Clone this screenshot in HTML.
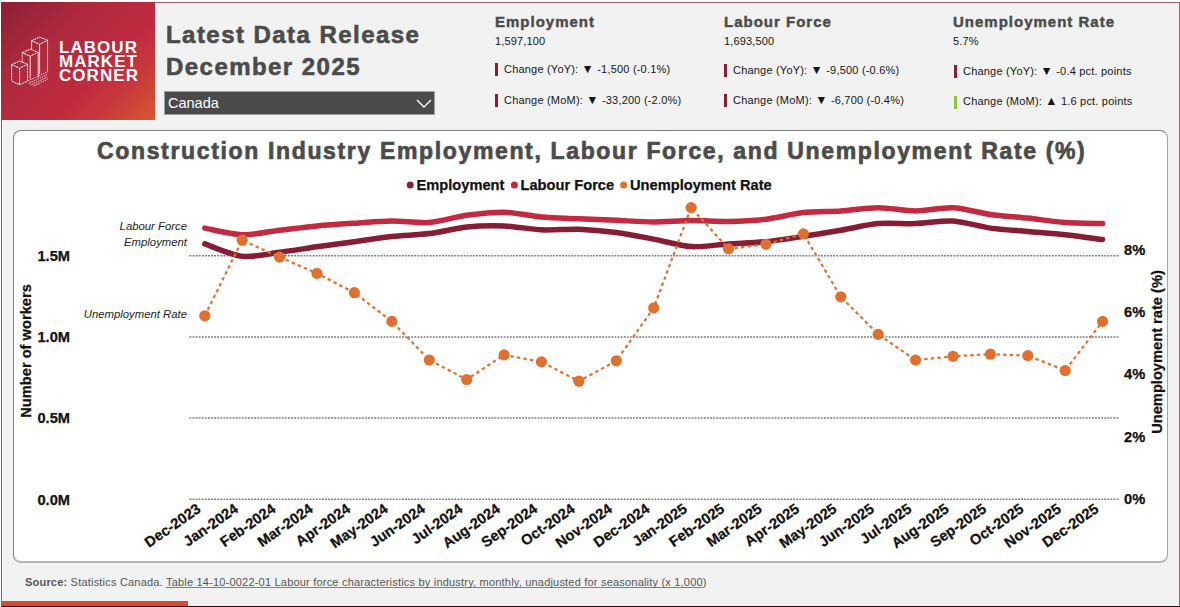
<!DOCTYPE html>
<html><head><meta charset="utf-8">
<style>
html,body{margin:0;padding:0;}
body{width:1180px;height:607px;position:relative;overflow:hidden;background:#fff;font-family:"Liberation Sans",sans-serif;}
#frame{position:absolute;left:1px;top:2px;width:1177px;height:603px;background:#f2f2f2;border:1px solid #9a5c68;border-bottom-color:#2e0a12;}
#logo{position:absolute;left:1px;top:2px;width:154px;height:118px;background:linear-gradient(135deg,#8c2036 0%,#b02a3e 35%,#c02a40 62%,#c7383b 78%,#d9592f 100%);overflow:hidden;}
.abs{position:absolute;white-space:nowrap;}
.h1{font-weight:bold;font-size:24px;color:#4b4b4b;letter-spacing:1.45px;-webkit-text-stroke:0.6px #4b4b4b;}
.sh{font-weight:bold;font-size:15px;color:#4b4b4b;letter-spacing:1.0px;-webkit-text-stroke:0.45px #4b4b4b;}
.sv{font-size:11px;color:#151515;letter-spacing:0.15px;}
.ch{font-size:11px;line-height:13px;color:#151515;letter-spacing:0.2px;}
.tri{font-size:12.3px;line-height:13px;}
.bar{position:absolute;width:3px;height:13px;background:#8a1d35;}
#dd{position:absolute;left:164px;top:91px;width:269px;height:22px;background:#4a4a4a;border:1px solid #a0a0a0;}
#panel{position:absolute;left:13px;top:130px;width:1153px;height:430px;background:#fff;border:1px solid #808080;border-right-color:#a4a4a4;border-bottom:2px solid #b4b4b4;border-radius:8px;}
svg text.ax{font-family:"Liberation Sans",sans-serif;font-weight:bold;font-size:14.67px;fill:#111;stroke:#111;stroke-width:0.25px;}
svg text.an{font-family:"Liberation Sans",sans-serif;font-style:italic;font-size:11.33px;fill:#222;}
svg text.lg{font-family:"Liberation Sans",sans-serif;font-weight:bold;font-size:14.67px;fill:#111;stroke:#111;stroke-width:0.25px;}
#ctitle{position:absolute;left:97px;top:137.2px;font-weight:bold;font-size:23px;line-height:28px;color:#4b4b4b;letter-spacing:1.65px;-webkit-text-stroke:0.7px #4b4b4b;white-space:nowrap;}
#src{position:absolute;left:25px;top:575.5px;font-size:11px;color:#555;white-space:nowrap;letter-spacing:0.2px;}
#src u{text-decoration-color:#808080;text-underline-offset:0.5px;text-decoration-skip-ink:none;}
#obar{position:absolute;left:1px;top:601px;width:187px;height:5px;background:#d64a2f;}
</style></head><body>
<div id="frame"></div>
<div id="logo">
<svg width="154" height="118" viewBox="1 2 154 118" style="position:absolute;left:0;top:0">
<g fill="none" stroke="#fff" stroke-width="1" stroke-linejoin="miter">
  <path stroke-dasharray="2.2 0.6" d="M11.6,64.7 L19.6,61.1 L27.6,64.2 L19.6,68.2 Z M11.6,64.7 L11.6,81.1 L19.6,84.7 L27.6,81.1 L27.6,64.2 M19.6,68.2 L19.6,84.7"/>
  <path stroke-dasharray="2.2 0.6" d="M22.2,52.7 L30.2,49.1 L38.2,52.2 L30.2,56.2 Z"/><path stroke-opacity="0.85" d="M30.2,56.2 L30.2,78.4 M38.2,52.2 L38.2,77.6"/>
  <path stroke-opacity="0.6" d="M22.2,52.7 L22.2,63"/>
  <path stroke-dasharray="2.2 0.6" d="M31.6,40.7 L39.6,37.1 L47.6,40.2 L39.6,44.2 Z"/><path stroke-opacity="0.85" d="M31.6,40.7 L31.6,49.5 M39.6,44.2 L39.6,74"/>
  <path stroke-opacity="0.6" d="M47.6,40.2 L47.6,71.5"/>
  <path stroke-dasharray="1.2 0.9" stroke-width="0.9" d="M27.6,81.1 L47.6,71.8 M28.6,83.4 L47.6,74.4 M30.2,85.2 L47.6,77 M33.5,86 L47.6,79.4"/>
</g>
<g font-family="Liberation Sans" font-weight="bold" font-size="17" fill="#fff" letter-spacing="1.05">
<text x="59" y="52.7" >LABOUR</text>
<text x="59" y="66.8" >MARKET</text>
<text x="59" y="81.1" >CORNER</text>
</g></svg>
</div>
<div class="abs h1" style="left:166px;top:21px;line-height:28px;">Latest Data Release</div>
<div class="abs h1" style="left:166px;top:53px;line-height:28px;">December 2025</div>
<div id="dd"><span class="abs" style="left:3px;top:3px;font-size:14.5px;color:#fff;">Canada</span>
<svg class="abs" style="left:250.5px;top:7.3px" width="17" height="10"><path d="M1,1 L8,8 L15,1" fill="none" stroke="#fff" stroke-width="1.4"/></svg></div>

<div class="abs sh" style="left:495px;top:13px;">Employment</div>
<div class="abs sv" style="left:495px;top:35px;">1,597,100</div>
<div class="bar" style="left:495px;top:63px;"></div>
<div class="abs ch" style="left:504px;top:63px;">Change (YoY): <span class=tri>▼</span> -1,500 (-0.1%)</div>
<div class="bar" style="left:495px;top:94px;"></div>
<div class="abs ch" style="left:504px;top:94px;">Change (MoM): <span class=tri>▼</span> -33,200 (-2.0%)</div>

<div class="abs sh" style="left:724px;top:13px;">Labour Force</div>
<div class="abs sv" style="left:724px;top:35px;">1,693,500</div>
<div class="bar" style="left:724px;top:64px;"></div>
<div class="abs ch" style="left:733px;top:64px;">Change (YoY): <span class=tri>▼</span> -9,500 (-0.6%)</div>
<div class="bar" style="left:724px;top:94px;"></div>
<div class="abs ch" style="left:733px;top:94px;">Change (MoM): <span class=tri>▼</span> -6,700 (-0.4%)</div>

<div class="abs sh" style="left:953px;top:13px;">Unemployment Rate</div>
<div class="abs sv" style="left:953px;top:35px;">5.7%</div>
<div class="bar" style="left:954px;top:65px;"></div>
<div class="abs ch" style="left:963px;top:65px;">Change (YoY): <span class=tri>▼</span> -0.4 pct. points</div>
<div class="bar" style="left:954px;top:96px;background:#8cc63f;"></div>
<div class="abs ch" style="left:963px;top:95px;">Change (MoM): <span class=tri>▲</span> 1.6 pct. points</div>

<div id="panel"></div>
<div id="ctitle">Construction Industry Employment, Labour Force, and Unemployment Rate (%)</div>
<svg style="position:absolute;left:0;top:0" width="1180" height="607">
<line x1="1118.4" y1="255.7" x2="189.3" y2="255.7" stroke="#777" stroke-width="1.5" stroke-dasharray="1.8 1.28"/>
<line x1="1118.4" y1="336.9" x2="189.3" y2="336.9" stroke="#777" stroke-width="1.5" stroke-dasharray="1.8 1.28"/>
<line x1="1118.4" y1="418.1" x2="189.3" y2="418.1" stroke="#777" stroke-width="1.5" stroke-dasharray="1.8 1.28"/>
<line x1="1118.4" y1="499.3" x2="189.3" y2="499.3" stroke="#777" stroke-width="1.5" stroke-dasharray="1.8 1.28"/>
<text x="70" y="260.9" text-anchor="end" class="ax">1.5M</text>
<text x="70" y="342.1" text-anchor="end" class="ax">1.0M</text>
<text x="70" y="423.3" text-anchor="end" class="ax">0.5M</text>
<text x="70" y="504.5" text-anchor="end" class="ax">0.0M</text>
<text x="1124" y="254.9" class="ax">8%</text>
<text x="1124" y="317.1" class="ax">6%</text>
<text x="1124" y="379.3" class="ax">4%</text>
<text x="1124" y="441.5" class="ax">2%</text>
<text x="1124" y="503.8" class="ax">0%</text>
<text transform="translate(30.6,351) rotate(-90)" text-anchor="middle" class="ax">Number of workers</text>
<text transform="translate(1162,352) rotate(-90)" text-anchor="middle" class="ax">Unemployment rate (%)</text>
<path d="M204.8,228.1 C210.4,229.1 231.0,234.4 242.2,234.7 C253.4,235.0 268.4,231.6 279.6,230.3 C290.8,229.0 305.8,227.0 317.0,225.9 C328.3,224.8 343.2,223.9 354.4,223.2 C365.7,222.5 380.6,221.1 391.9,221.0 C403.1,220.9 418.0,223.4 429.3,222.5 C440.5,221.6 455.4,216.8 466.7,215.3 C477.9,213.8 492.9,211.9 504.1,212.2 C515.3,212.5 530.3,216.0 541.5,217.0 C552.7,218.0 567.7,218.3 578.9,218.8 C590.1,219.3 605.1,219.8 616.3,220.3 C627.5,220.8 642.5,221.9 653.7,221.9 C664.9,221.9 679.9,220.7 691.1,220.6 C702.4,220.5 717.3,221.6 728.5,221.4 C739.8,221.2 754.7,220.5 766.0,219.2 C777.2,217.9 792.1,213.8 803.4,212.6 C814.6,211.4 829.5,211.6 840.8,210.9 C852.0,210.2 867.0,207.8 878.2,207.8 C889.4,207.8 904.4,210.9 915.6,210.9 C926.8,210.9 941.8,207.3 953.0,207.8 C964.2,208.3 979.2,212.9 990.4,214.4 C1001.6,215.9 1016.6,216.9 1027.8,218.1 C1039.0,219.3 1054.0,221.7 1065.2,222.5 C1076.5,223.3 1097.0,223.4 1102.6,223.6" fill="none" stroke="#c12a40" stroke-width="5.5" stroke-linecap="round" stroke-linejoin="round"/>
<path d="M204.8,243.9 C210.4,245.8 231.0,255.0 242.2,256.3 C253.4,257.6 268.4,253.7 279.6,252.3 C290.8,250.9 305.8,248.4 317.0,246.8 C328.3,245.2 343.2,243.3 354.4,241.7 C365.7,240.1 380.6,237.6 391.9,236.4 C403.1,235.2 418.0,235.0 429.3,233.6 C440.5,232.2 455.4,228.2 466.7,227.0 C477.9,225.8 492.9,225.5 504.1,225.9 C515.3,226.3 530.3,229.3 541.5,229.8 C552.7,230.3 567.7,228.8 578.9,229.2 C590.1,229.6 605.1,231.0 616.3,232.5 C627.5,234.0 642.5,237.0 653.7,239.1 C664.9,241.2 679.9,245.9 691.1,246.6 C702.4,247.3 717.3,244.6 728.5,243.9 C739.8,243.2 754.7,242.8 766.0,241.7 C777.2,240.6 792.1,238.1 803.4,236.4 C814.6,234.7 829.5,232.2 840.8,230.3 C852.0,228.4 867.0,224.6 878.2,223.6 C889.4,222.6 904.4,224.0 915.6,223.6 C926.8,223.2 941.8,220.3 953.0,221.0 C964.2,221.7 979.2,226.5 990.4,228.1 C1001.6,229.7 1016.6,230.4 1027.8,231.4 C1039.0,232.4 1054.0,233.5 1065.2,234.7 C1076.5,235.9 1097.0,238.8 1102.6,239.5" fill="none" stroke="#871d35" stroke-width="5.5" stroke-linecap="round" stroke-linejoin="round"/>
<polyline points="204.8,315.8 242.2,240.2 279.6,257.1 317.0,273.4 354.4,292.7 391.9,321.4 429.3,360.0 466.7,379.5 504.1,354.9 541.5,361.9 578.9,381.2 616.3,360.8 653.7,307.9 691.1,207.6 728.5,248.8 766.0,244.3 803.4,233.9 840.8,296.8 878.2,334.4 915.6,360.1 953.0,356.3 990.4,354.2 1027.8,355.6 1065.2,370.5 1102.6,321.4" fill="none" stroke="#e07030" stroke-width="2.2" stroke-dasharray="3.4 3.2"/>
<circle cx="204.8" cy="315.8" r="5.6" fill="#e07030"/>
<circle cx="242.2" cy="240.2" r="5.6" fill="#e07030"/>
<circle cx="279.6" cy="257.1" r="5.6" fill="#e07030"/>
<circle cx="317.0" cy="273.4" r="5.6" fill="#e07030"/>
<circle cx="354.4" cy="292.7" r="5.6" fill="#e07030"/>
<circle cx="391.9" cy="321.4" r="5.6" fill="#e07030"/>
<circle cx="429.3" cy="360.0" r="5.6" fill="#e07030"/>
<circle cx="466.7" cy="379.5" r="5.6" fill="#e07030"/>
<circle cx="504.1" cy="354.9" r="5.6" fill="#e07030"/>
<circle cx="541.5" cy="361.9" r="5.6" fill="#e07030"/>
<circle cx="578.9" cy="381.2" r="5.6" fill="#e07030"/>
<circle cx="616.3" cy="360.8" r="5.6" fill="#e07030"/>
<circle cx="653.7" cy="307.9" r="5.6" fill="#e07030"/>
<circle cx="691.1" cy="207.6" r="5.6" fill="#e07030"/>
<circle cx="728.5" cy="248.8" r="5.6" fill="#e07030"/>
<circle cx="766.0" cy="244.3" r="5.6" fill="#e07030"/>
<circle cx="803.4" cy="233.9" r="5.6" fill="#e07030"/>
<circle cx="840.8" cy="296.8" r="5.6" fill="#e07030"/>
<circle cx="878.2" cy="334.4" r="5.6" fill="#e07030"/>
<circle cx="915.6" cy="360.1" r="5.6" fill="#e07030"/>
<circle cx="953.0" cy="356.3" r="5.6" fill="#e07030"/>
<circle cx="990.4" cy="354.2" r="5.6" fill="#e07030"/>
<circle cx="1027.8" cy="355.6" r="5.6" fill="#e07030"/>
<circle cx="1065.2" cy="370.5" r="5.6" fill="#e07030"/>
<circle cx="1102.6" cy="321.4" r="5.6" fill="#e07030"/>
<text x="187" y="229.9" text-anchor="end" class="an">Labour Force</text>
<text x="187" y="246.2" text-anchor="end" class="an">Employment</text>
<text x="187" y="318" text-anchor="end" class="an">Unemployment Rate</text>
<text transform="translate(201.8,511) rotate(-35)" text-anchor="end" class="ax">Dec-2023</text>
<text transform="translate(239.2,511) rotate(-35)" text-anchor="end" class="ax">Jan-2024</text>
<text transform="translate(276.6,511) rotate(-35)" text-anchor="end" class="ax">Feb-2024</text>
<text transform="translate(314.0,511) rotate(-35)" text-anchor="end" class="ax">Mar-2024</text>
<text transform="translate(351.4,511) rotate(-35)" text-anchor="end" class="ax">Apr-2024</text>
<text transform="translate(388.9,511) rotate(-35)" text-anchor="end" class="ax">May-2024</text>
<text transform="translate(426.3,511) rotate(-35)" text-anchor="end" class="ax">Jun-2024</text>
<text transform="translate(463.7,511) rotate(-35)" text-anchor="end" class="ax">Jul-2024</text>
<text transform="translate(501.1,511) rotate(-35)" text-anchor="end" class="ax">Aug-2024</text>
<text transform="translate(538.5,511) rotate(-35)" text-anchor="end" class="ax">Sep-2024</text>
<text transform="translate(575.9,511) rotate(-35)" text-anchor="end" class="ax">Oct-2024</text>
<text transform="translate(613.3,511) rotate(-35)" text-anchor="end" class="ax">Nov-2024</text>
<text transform="translate(650.7,511) rotate(-35)" text-anchor="end" class="ax">Dec-2024</text>
<text transform="translate(688.1,511) rotate(-35)" text-anchor="end" class="ax">Jan-2025</text>
<text transform="translate(725.5,511) rotate(-35)" text-anchor="end" class="ax">Feb-2025</text>
<text transform="translate(763.0,511) rotate(-35)" text-anchor="end" class="ax">Mar-2025</text>
<text transform="translate(800.4,511) rotate(-35)" text-anchor="end" class="ax">Apr-2025</text>
<text transform="translate(837.8,511) rotate(-35)" text-anchor="end" class="ax">May-2025</text>
<text transform="translate(875.2,511) rotate(-35)" text-anchor="end" class="ax">Jun-2025</text>
<text transform="translate(912.6,511) rotate(-35)" text-anchor="end" class="ax">Jul-2025</text>
<text transform="translate(950.0,511) rotate(-35)" text-anchor="end" class="ax">Aug-2025</text>
<text transform="translate(987.4,511) rotate(-35)" text-anchor="end" class="ax">Sep-2025</text>
<text transform="translate(1024.8,511) rotate(-35)" text-anchor="end" class="ax">Oct-2025</text>
<text transform="translate(1062.2,511) rotate(-35)" text-anchor="end" class="ax">Nov-2025</text>
<text transform="translate(1099.6,511) rotate(-35)" text-anchor="end" class="ax">Dec-2025</text>
<circle cx="410.2" cy="185" r="3.5" fill="#871d35"/>
<text x="416.5" y="189.8" class="lg">Employment</text>
<circle cx="514.4" cy="185" r="3.5" fill="#c12a40"/>
<text x="520.5" y="189.8" class="lg">Labour Force</text>
<circle cx="623.6" cy="185" r="3.5" fill="#e07030"/>
<text x="630" y="189.8" class="lg">Unemployment Rate</text>
</svg>
<div id="src"><b>Source:</b> Statistics Canada. <u>Table 14-10-0022-01 Labour force characteristics by industry, monthly, unadjusted for seasonality (x 1,000</u>)</div>
<div id="obar"></div>
</body></html>
